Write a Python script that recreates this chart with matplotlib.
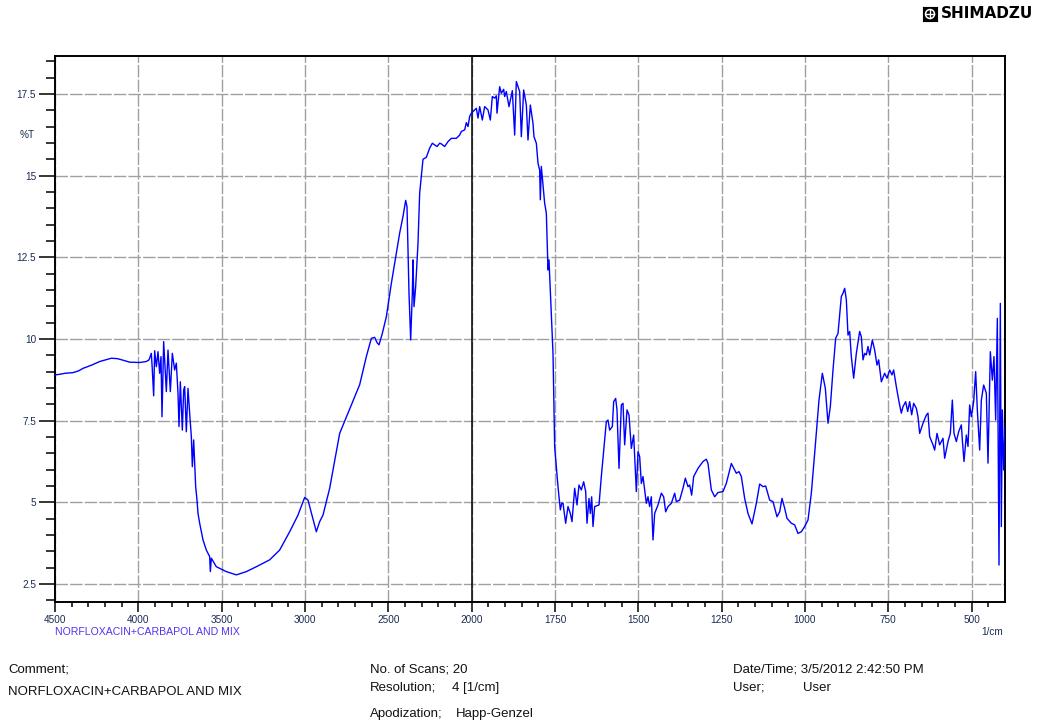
import numpy as np
import matplotlib
matplotlib.use("Agg")
import matplotlib.pyplot as plt
from matplotlib.ticker import FixedLocator, FuncFormatter
from matplotlib.patches import Circle

# FTIR spectrum: wavenumber (1/cm) and transmittance (%T)
wavenumber = [
    4500, 4470, 4440, 4392, 4360, 4332, 4280, 4232, 4162, 4130, 4112, 4052, 3992, 3952,
    3936, 3922, 3916, 3908, 3902, 3892, 3882, 3872, 3864, 3858, 3848, 3840, 3832, 3822,
    3808, 3796, 3782, 3772, 3762, 3756, 3748, 3736, 3728, 3722, 3712, 3702, 3692, 3682,
    3676, 3668, 3656, 3648, 3642, 3632, 3612, 3592, 3582, 3572, 3568, 3562, 3532, 3472,
    3412, 3352, 3292, 3212, 3152, 3092, 3042, 3002, 2982, 2956, 2932, 2912, 2892, 2852,
    2792, 2720, 2672, 2632, 2602, 2582, 2568, 2556, 2536, 2512, 2482, 2452, 2432, 2412,
    2396, 2388, 2376, 2366, 2356, 2352, 2346, 2336, 2322, 2312, 2292, 2272, 2252, 2236,
    2222, 2208, 2192, 2182, 2162, 2142, 2122, 2092, 2072, 2062, 2042, 2032, 2022, 2012,
    2002, 1991, 1986, 1981, 1976, 1968, 1961, 1951, 1944, 1938, 1931, 1926, 1924, 1916,
    1911, 1904, 1901, 1896, 1888, 1878, 1871, 1866, 1856, 1851, 1844, 1836, 1831, 1824,
    1816, 1813, 1806, 1801, 1796, 1794, 1791, 1781, 1776, 1771, 1768, 1756, 1751, 1741,
    1734, 1730, 1726, 1718, 1711, 1704, 1699, 1691, 1684, 1678, 1671, 1664, 1658, 1654,
    1648, 1644, 1640, 1636, 1631, 1618, 1611, 1596, 1591, 1586, 1578, 1574, 1568, 1564,
    1558, 1551, 1546, 1541, 1534, 1528, 1521, 1514, 1506, 1501, 1496, 1491, 1486, 1476,
    1471, 1466, 1461, 1456, 1451, 1441, 1431, 1424, 1418, 1411, 1401, 1391, 1386, 1376,
    1366, 1359, 1351, 1346, 1340, 1334, 1321, 1306, 1296, 1291, 1281, 1271, 1261, 1246,
    1236, 1221, 1216, 1206, 1198, 1191, 1181, 1171, 1159, 1146, 1136, 1126, 1118, 1106,
    1096, 1084, 1076, 1069, 1061, 1054, 1041, 1031, 1021, 1011, 1001, 991, 981, 971,
    958, 948, 939, 931, 924, 916, 908, 901, 891, 886, 881, 876, 871, 866,
    861, 854, 846, 836, 831, 826, 821, 816, 811, 806, 798, 791, 784, 779,
    771, 761, 754, 746, 739, 734, 726, 718, 711, 706, 698, 692, 686, 680,
    674, 666, 661, 656, 646, 636, 631, 626, 616, 611, 604, 596, 586, 581,
    571, 564, 558, 553, 546, 539, 531, 528, 523, 516, 511, 506, 501, 494,
    488, 483, 476, 471, 464, 456, 451, 444, 438, 433, 428, 423, 418, 414,
    411, 408, 404, 400,
]
transmittance = [
    8.90, 8.92, 8.95, 8.97, 9.02, 9.10, 9.20, 9.31, 9.41, 9.40, 9.38, 9.29, 9.28, 9.31,
    9.36, 9.56, 9.05, 8.26, 9.64, 9.15, 9.61, 8.95, 9.46, 7.62, 9.92, 9.15, 8.39, 9.66,
    8.39, 9.56, 9.05, 9.26, 8.34, 7.32, 8.69, 7.21, 8.44, 8.54, 7.16, 8.49, 7.72, 7.01,
    6.09, 6.91, 5.48, 5.07, 4.66, 4.36, 3.85, 3.54, 3.44, 3.34, 2.88, 3.29, 3.03, 2.88,
    2.78, 2.88, 3.03, 3.24, 3.54, 4.10, 4.61, 5.15, 5.07, 4.56, 4.10, 4.41, 4.61, 5.43,
    7.11, 8.00, 8.60, 9.46, 10.02, 10.05, 9.89, 9.82, 10.17, 10.68, 11.70, 12.62, 13.24, 13.75,
    14.24, 14.05, 11.40, 9.97, 11.40, 12.42, 10.99, 11.60, 12.93, 14.46, 15.50, 15.56, 15.84, 15.99,
    15.94, 15.89, 15.99, 15.97, 15.89, 16.04, 16.14, 16.14, 16.24, 16.35, 16.40, 16.62, 16.50, 16.81,
    16.91, 17.01, 17.06, 16.76, 17.11, 16.70, 17.11, 17.01, 16.70, 17.42, 17.37, 17.44, 16.91, 17.72,
    17.52, 17.64, 17.42, 17.57, 17.11, 17.60, 16.24, 17.88, 17.57, 16.19, 17.62, 17.16, 16.09, 17.16,
    16.60, 16.19, 15.99, 15.38, 15.17, 14.26, 15.28, 14.15, 13.85, 12.11, 12.42, 9.56, 6.70, 5.48,
    4.77, 4.97, 4.97, 4.36, 4.87, 4.66, 4.41, 5.43, 4.92, 5.53, 5.38, 5.63, 5.33, 4.36,
    5.12, 4.66, 5.17, 4.26, 4.87, 4.92, 5.79, 7.47, 7.52, 7.21, 7.32, 8.08, 8.18, 7.83,
    6.04, 7.98, 8.03, 6.76, 7.83, 7.67, 6.65, 7.06, 5.33, 6.55, 6.40, 5.58, 5.79, 4.97,
    5.17, 4.87, 5.17, 3.85, 4.66, 4.92, 5.28, 5.17, 4.71, 4.87, 4.97, 5.28, 5.02, 5.07,
    5.43, 5.74, 5.48, 5.53, 5.22, 5.79, 6.04, 6.25, 6.32, 6.19, 5.38, 5.17, 5.30, 5.33,
    5.58, 6.19, 6.09, 5.89, 5.94, 5.79, 5.12, 4.66, 4.34, 4.97, 5.56, 5.48, 5.50, 5.07,
    5.02, 4.56, 4.71, 5.12, 4.82, 4.51, 4.36, 4.31, 4.05, 4.10, 4.26, 4.46, 5.28, 6.50,
    8.13, 8.95, 8.49, 7.42, 7.93, 9.05, 10.02, 10.17, 11.30, 11.40, 11.55, 11.20, 10.12, 10.23,
    9.46, 8.80, 9.56, 10.23, 10.07, 9.36, 9.56, 9.51, 9.77, 9.51, 9.97, 9.66, 9.20, 9.36,
    8.69, 8.95, 8.80, 9.05, 8.90, 9.05, 8.54, 8.08, 7.73, 7.93, 8.08, 7.78, 8.08, 7.68,
    8.03, 7.88, 7.62, 7.11, 7.42, 7.67, 7.73, 7.01, 6.76, 6.60, 7.11, 6.76, 6.96, 6.35,
    6.86, 7.11, 8.13, 7.11, 6.86, 7.16, 7.37, 6.91, 6.25, 7.06, 6.71, 7.98, 7.62, 8.08,
    9.00, 7.83, 6.60, 8.13, 8.59, 8.34, 6.20, 9.61, 8.74, 9.46, 7.52, 10.63, 3.08, 11.09,
    4.26, 7.83, 5.99, 7.32,
]

x_major = [4500, 4000, 3500, 3000, 2500, 2000, 1750, 1500, 1250, 1000, 750, 500]
y_major = [2.5, 5, 7.5, 10, 12.5, 15, 17.5]
sample_name = "NORFLOXACIN+CARBAPOL AND MIX"

W, H = 1054, 728


def fwd(w):
    # above 2000 1/cm the axis is compressed by half
    w = np.asarray(w, dtype=float)
    return np.where(w > 2000, 2000 + (w - 2000) / 2.0, w)


def inv(u):
    u = np.asarray(u, dtype=float)
    return np.where(u > 2000, 2000 + (u - 2000) * 2.0, u)


def fpos(x, y):
    return x / W, 1 - y / H


fig = plt.figure(figsize=(W / 100, H / 100), dpi=100)
ax = fig.add_axes([55 / W, 1 - 602 / H, 950 / W, 546 / H])
ax.set_xscale('function', functions=(fwd, inv))

ax.plot(wavenumber, transmittance, color='#0000ff', lw=1.0, zorder=3)
ax.set_xlim(4500, 400)
ax.set_ylim(1.95, 18.66)

ax.xaxis.set_major_locator(FixedLocator(x_major))
x_minor = [v for v in list(range(2100, 4500, 100)) + list(range(450, 2000, 50)) if v not in x_major]
ax.xaxis.set_minor_locator(FixedLocator(x_minor))
ax.yaxis.set_major_locator(FixedLocator(y_major))
ax.yaxis.set_minor_locator(FixedLocator([v for v in np.arange(2.0, 18.6, 0.5) if v not in y_major]))
ax.yaxis.set_major_formatter(FuncFormatter(lambda v, p: '%g' % v))

tick_family = ['Liberation Sans', 'DejaVu Sans']
ax.tick_params(axis='y', which='major', length=11.5, width=1.1, pad=2, colors='black', labelcolor='#1a2a50')
ax.tick_params(axis='y', which='minor', length=6.5, width=1.1)
ax.tick_params(axis='x', which='major', length=7.2, width=1.1, pad=2, labelcolor='#1a2a50')
ax.tick_params(axis='x', which='minor', length=3.6, width=1.1)
for lab in ax.get_xticklabels() + ax.get_yticklabels():
    lab.set_fontfamily(tick_family)
    lab.set_fontsize(7.2)

for s in ax.spines.values():
    s.set_linewidth(1.4)
    s.set_color('black')

ax.grid(True, which='major', color='#a0a0a0', lw=1.0, dashes=(9, 1.5))
ax.set_axisbelow(True)
ax.axvline(2000, color='black', lw=1.1, zorder=2)

# axis annotations
fig.text(*fpos(27, 135), '%T', ha='center', va='center', color='#1a2a50',
         family=tick_family, size=7.2)
fig.text(*fpos(1003, 632), '1/cm', ha='right', va='center', color='#1a2a50',
         family=tick_family, size=7.2)
fig.text(*fpos(55, 632), sample_name, ha='left', va='center', color='#5533ee',
         family=tick_family, size=7.6)

# footer block
foot = dict(ha='left', va='center', color='#111111', family=tick_family, size=9.5)
fig.text(*fpos(8, 670), 'Comment;', **foot)
fig.text(*fpos(8, 692), sample_name, **foot)
fig.text(*fpos(370, 670), 'No. of Scans; 20', **foot)
fig.text(*fpos(370, 688), 'Resolution;', **foot)
fig.text(*fpos(452, 688), '4 [1/cm]', **foot)
fig.text(*fpos(370, 714), 'Apodization;', **foot)
fig.text(*fpos(456, 714), 'Happ-Genzel', **foot)
fig.text(*fpos(733, 670), 'Date/Time; 3/5/2012 2:42:50 PM', **foot)
fig.text(*fpos(733, 688), 'User;', **foot)
fig.text(*fpos(803, 688), 'User', **foot)

# brand mark in the corner
logo = fig.add_axes([923 / W, 1 - 21 / H, 14 / W, 14 / H])
logo.set_xlim(0, 1)
logo.set_ylim(0, 1)
logo.set_facecolor('black')
logo.set_xticks([])
logo.set_yticks([])
for s in logo.spines.values():
    s.set_color('black')
logo.add_patch(Circle((0.5, 0.5), 0.32, fill=False, ec='white', lw=1.1))
logo.plot([0.18, 0.82], [0.5, 0.5], color='white', lw=1.0)
logo.plot([0.5, 0.5], [0.18, 0.82], color='white', lw=1.0)
fig.text(*fpos(941, 14), 'SHIMADZU', ha='left', va='center', color='black',
         family='DejaVu Sans', weight='bold', size=11)

fig.savefig('out.png', dpi=100)
